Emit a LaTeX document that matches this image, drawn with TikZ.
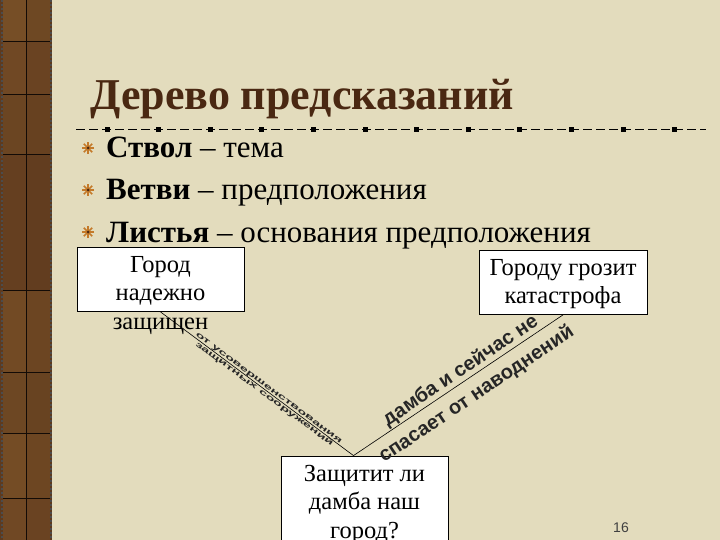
\documentclass[tikz,border=0pt]{standalone}
\usepackage{fontspec}
\setmainfont{Liberation Serif}
\newfontfamily\artfont{Liberation Sans}
\usetikzlibrary{calc,positioning}
\definecolor{paper}{HTML}{E3DCBD}
\definecolor{bark}{HTML}{5E3A1E}
\definecolor{barklight}{HTML}{8A5E2C}
\definecolor{titlebrown}{HTML}{4A2812}
\definecolor{starorange}{HTML}{C47A2A}
\tikzset{
  box/.style={draw=black,fill=white,line width=.8pt,minimum width=167pt,minimum height=64pt,inner sep=0pt},
  boxtext/.style={font=\fontsize{24.5}{28.5}\selectfont,align=center,inner sep=0pt},
  item/.style={font=\fontsize{31}{34}\selectfont,anchor=base west,inner sep=0pt},
  art/.style={font=\artfont\bfseries\fontsize{20}{20}\selectfont,text=black!85,inner sep=1pt},
  smallart/.style={font=\artfont\bfseries\fontsize{15}{15}\selectfont,text=black!85,inner sep=1pt},
}
\newcommand{\squash}[1]{\scalebox{1}[0.5]{#1}}

\begin{document}
\begin{tikzpicture}[x=1pt,y=-1pt]
\useasboundingbox (0,0) rectangle (720,540);
\clip (0,0) rectangle (720,540);
\fill[paper] (0,0) rectangle (720,540);

% wooden strip on the left
\fill[bark] (0,0) rectangle (52,540);
\foreach \t/\b/\s in {0/42/55,42/95/40,95/155/30,155/290/15,290/372/45,372/433/35,433/498/50,498/540/40}{
  \fill[barklight!\s!bark] (3,\t) rectangle (26,\b);
  \fill[barklight!\s!bark,opacity=.7] (26,\t) rectangle (50,\b);
}
\draw[black!80!bark,line width=1pt] (26,0) -- (26,540);
\foreach \y in {42,95,155,290,372,433,498}
  \draw[black!80!bark,line width=1pt] (3,\y) -- (50,\y);
\draw[black!70,line width=2pt,dash pattern=on 2pt off 2pt] (1.5,0) -- (1.5,540);
\draw[black!70,line width=2pt,dash pattern=on 2pt off 2pt] (51,0) -- (51,540);

% title
\node[font=\bfseries\fontsize{44}{44}\selectfont,text=titlebrown,anchor=base west,inner sep=0pt]
  (title) at (90,110) {Дерево предсказаний};
\draw[line width=1pt,dash pattern=on 9pt off 4pt] (76,130) -- (706,130);
\foreach \i in {0,...,11}
  \fill ($(107,130)+(\i*51.6,0)$) +(-2.5,-2.5) rectangle +(2.5,2.5);

% bullets
\foreach \y/\b/\t in {158/Ствол/тема,200/Ветви/предположения,242/Листья/основания предположения} {
  \foreach \a in {0,45,90,135}
    \draw[starorange,line width=1.6pt] ($(88,\y-10)+(\a:6)$) -- ($(88,\y-10)+(\a+180:6)$);
  \fill[titlebrown] (88,\y-10) circle (1.5);
  \node[item] at (106,\y) {\textbf{\b} – \t};
}

% boxes
\node[box] (city) at (160.5,279.5) {};
\node[boxtext,below=9pt of city.north,anchor=north] {Город\\надежно\\защищен};
\node[box,minimum width=168pt] (threat) at (563,282.5) {};
\node[boxtext,below=9pt of threat.north,anchor=north] {Городу грозит\\катастрофа};
\node[box,minimum height=110pt] (dam) at (364.5,511) {};
\node[boxtext,below=9pt of dam.north,anchor=north] {Защитит ли\\дамба наш\\город?};

\coordinate (apex) at ([xshift=-11pt]dam.north);

% branches
\draw[line width=.6pt] (city.south) --
  node[smallart,sloped,above,pos=.55,inner ysep=0pt] {\squash{от усовершенствования}}
  node[smallart,sloped,below,pos=.55,inner ysep=0pt] {\squash{защитных сооружений}}
  (apex);
\draw[line width=.6pt] (apex) --
  node[art,sloped,above,pos=.54] {дамба и сейчас не}
  node[art,sloped,below,pos=.54,inner ysep=8pt] {спасает от наводнений}
  (threat.south);

\node[font=\artfont\fontsize{14}{14}\selectfont,text=black!75] (page) at (621,528) {16};
\end{tikzpicture}
\end{document}
